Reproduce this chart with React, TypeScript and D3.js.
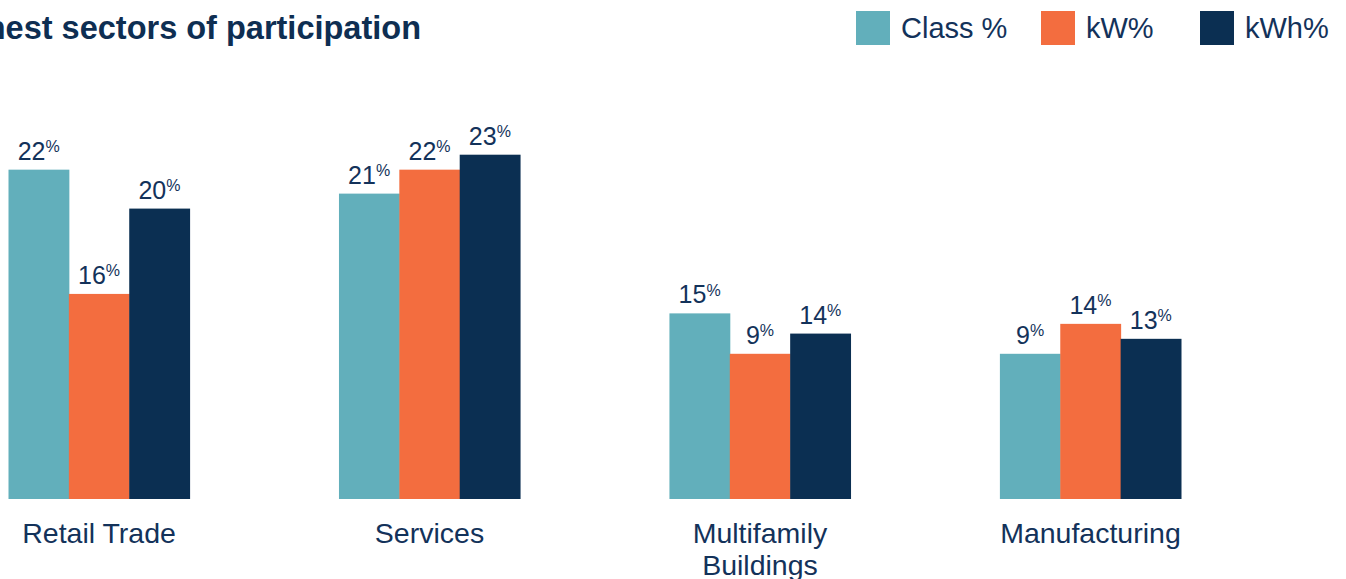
import React from "react";
import * as d3 from "d3";

const categories = ["Retail Trade", "Services", "Multifamily Buildings", "Manufacturing"];
const categoryLines = [["Retail Trade"], ["Services"], ["Multifamily", "Buildings"], ["Manufacturing"]];
const series = ["Class %", "kW%", "kWh%"];
// bar heights as drawn (in % units)
const classValues = [22.0, 20.4, 12.4, 9.7];
const kwValues = [13.7, 22.0, 9.7, 11.7];
const kwhValues = [19.4, 23.0, 11.05, 10.7];
// printed labels
const classLabels = ["22", "21", "15", "9"];
const kwLabels = ["16", "22", "9", "14"];
const kwhLabels = ["20", "23", "14", "13"];
const colors = ["#62afbb", "#f36d3f", "#0b2f52"];

const W = 1346;
const H = 579;
const TEXT = "#13325a";
const FONT = "'Liberation Sans', Arial, Helvetica, sans-serif";

export default function App() {
  const values = [classValues, kwValues, kwhValues];
  const labels = [classLabels, kwLabels, kwhLabels];

  const x0 = d3.scaleBand<string>().domain(categories).range([8.5, 1181]).paddingInner(0.452).paddingOuter(0);
  const x1 = d3.scaleBand<string>().domain(series).range([0, x0.bandwidth()]).padding(0);
  const y = d3.scaleLinear().domain([0, 23]).range([499, 154.7]);

  const legendX = [856, 1041, 1200];

  return (
    <svg width={W} height={H} style={{ position: "absolute", left: 0, top: 0, background: "#fff" }} fontFamily={FONT}>
      <text x={421} y={38.5} textAnchor="end" fontSize={32.5} fontWeight="bold" fill="#0e2e52">
        Highest sectors of participation
      </text>
      {series.map((s, i) => (
        <g key={s}>
          <rect x={legendX[i]} y={11} width={34} height={34} fill={colors[i]} />
          <text x={legendX[i] + 45} y={37.5} fontSize={29} fill={TEXT}>
            {s}
          </text>
        </g>
      ))}
      {categories.map((c, ci) => (
        <g key={c} transform={`translate(${x0(c)},0)`}>
          {series.map((s, si) => {
            const v = values[si][ci];
            const bx = x1(s)!;
            const bw = x1.bandwidth();
            return (
              <g key={s}>
                <rect x={bx} y={y(v)} width={bw + 0.5} height={y(0) - y(v)} fill={colors[si]} />
                <text x={bx + bw / 2} y={y(v) - 10} textAnchor="middle" fontSize={25} fill={TEXT}>
                  {labels[si][ci]}
                  <tspan fontSize={16} dy={-7.5}>%</tspan>
                </text>
              </g>
            );
          })}
          {categoryLines[ci].map((line, li) => (
            <text key={li} x={x0.bandwidth() / 2} y={543 + li * 32} textAnchor="middle" fontSize={28.5} fill={TEXT}>
              {line}
            </text>
          ))}
        </g>
      ))}
    </svg>
  );
}
